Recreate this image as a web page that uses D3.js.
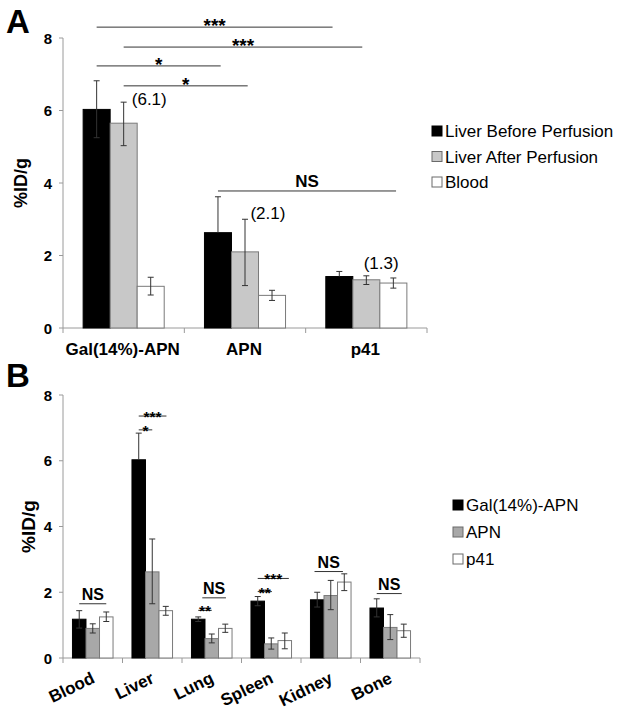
<!DOCTYPE html>
<html><head><meta charset="utf-8">
<script src="https://cdn.jsdelivr.net/npm/d3@7/dist/d3.min.js"></script>
<style>body{margin:0;background:#fff;} svg{display:block;font-family:"Liberation Sans",Arial,sans-serif;}</style>
</head><body>
<svg id="c" width="624" height="719"></svg>
<script>
// ---------- Panel A data ----------
const catsA = ["Gal(14%)-APN", "APN", "p41"];
const seriesA = ["Liver Before Perfusion", "Liver After Perfusion", "Blood"];
const valuesA = [[6.03, 5.65, 1.15], [2.63, 2.10, 0.90], [1.42, 1.33, 1.24]];
const errLoA = [[5.25, 5.03, 0.91], [2.63, 1.17, 0.76], [1.42, 1.20, 1.10]];
const errHiA = [[6.82, 6.23, 1.40], [3.62, 3.00, 1.04], [1.56, 1.44, 1.38]];
const colorsA = ["#000000", "#c8c8c8", "#ffffff"];
const ticksA = [0, 2, 4, 6, 8];
// significance brackets: [cat1, sub1, cat2, sub2, yValue, label]
const sigA = [
  [0, 0, 2, -0.25, 8.30, "***"],
  [0, 1, 2, 0.85, 7.75, "***"],
  [0, 0, 1, 0.1, 7.23, "*"],
  [0, 1, 1, 1.1, 6.68, "*"],
  [1, 0, 2, 2.1, 3.78, "NS"]
];
const notesA = [[0, 1.3, 6.15, "(6.1)"], [1, 1.2, 3.01, "(2.1)"], [2, 0.9, 1.63, "(1.3)"]];

// ---------- Panel B data ----------
const catsB = ["Blood", "Liver", "Lung", "Spleen", "Kidney", "Bone"];
const seriesB = ["Gal(14%)-APN", "APN", "p41"];
const valuesB = [[1.18, 0.90, 1.25], [6.03, 2.62, 1.44], [1.18, 0.59, 0.90], [1.73, 0.43, 0.53], [1.77, 1.90, 2.31], [1.52, 0.93, 0.83]];
const errLoB = [[0.91, 0.76, 1.11], [6.03, 1.65, 1.30], [1.11, 0.46, 0.78], [1.59, 0.27, 0.28], [1.55, 1.47, 2.05], [1.25, 0.56, 0.63]];
const errHiB = [[1.44, 1.04, 1.40], [6.84, 3.62, 1.57], [1.25, 0.73, 1.03], [1.87, 0.61, 0.76], [2.00, 2.36, 2.56], [1.80, 1.32, 1.03]];
const colorsB = ["#000000", "#a8a8a8", "#ffffff"];
const ticksB = [0, 2, 4, 6, 8];
const sigB = [
  [0, 0, 0, 2, 1.65, "NS"],
  [1, 0, 1, 2.05, 7.36, "***"],
  [1, 0, 1, 1.0, 6.94, "*"],
  [2, 0.3, 2, 2.05, 1.83, "NS"],
  [2, 0, 2, 1.0, 1.45, "**"],
  [3, 0, 3, 2.3, 2.42, "***"],
  [3, 0, 3, 1.05, 2.02, "**"],
  [4, -0.2, 4, 1.9, 2.63, "NS"],
  [5, 0, 5, 1.85, 1.96, "NS"]
];

const svg = d3.select("#c");
const axisColor = "#9a9a9a";

function drawPanel(o) {
  const g = svg.append("g");
  const x = d3.scaleBand().domain(o.cats).range(o.xr).padding(0);
  const sub = d3.scaleBand().domain(d3.range(3)).range([0, x.bandwidth()]).paddingInner(0).paddingOuter(o.pad);
  const y = d3.scaleLinear().domain([0, 8]).range(o.yr);
  const sx = (ci, s) => x(o.cats[ci]) + sub(0) + (s + 0.5) * sub.step();

  // y axis
  g.append("line").attr("x1", o.xr[0]).attr("x2", o.xr[0]).attr("y1", y(0)).attr("y2", y(8)).attr("stroke", axisColor);
  o.ticks.forEach(t => {
    g.append("line").attr("x1", o.xr[0] - 4).attr("x2", o.xr[0]).attr("y1", y(t)).attr("y2", y(t)).attr("stroke", axisColor);
    g.append("text").attr("x", o.xr[0] - 11).attr("y", y(t) + 5.5).attr("text-anchor", "end")
      .attr("font-size", 15).attr("font-weight", "bold").text(t);
  });
  // x axis
  g.append("line").attr("x1", o.xr[0]).attr("x2", o.xr[1]).attr("y1", y(0)).attr("y2", y(0)).attr("stroke", axisColor);
  o.cats.forEach((c, i) => {
    const xx = x(c);
    g.append("line").attr("x1", xx).attr("x2", xx).attr("y1", y(0)).attr("y2", y(0) + 5).attr("stroke", axisColor);
  });
  g.append("line").attr("x1", o.xr[1]).attr("x2", o.xr[1]).attr("y1", y(0)).attr("y2", y(0) + 5).attr("stroke", axisColor);

  // bars
  o.cats.forEach((c, ci) => {
    o.values[ci].forEach((v, s) => {
      g.append("rect").attr("x", x(c) + sub(s)).attr("y", y(v)).attr("width", sub.bandwidth()).attr("height", y(0) - y(v))
        .attr("fill", o.colors[s]).attr("stroke", s === 0 ? "#000" : "#7a7a7a").attr("stroke-width", 1);
    });
    o.values[ci].forEach((v, s) => {
      const cx = sx(ci, s), lo = o.lo[ci][s], hi = o.hi[ci][s];
      g.append("line").attr("x1", cx).attr("x2", cx).attr("y1", y(lo)).attr("y2", y(hi)).attr("stroke", "#333").attr("stroke-width", 1);
      g.append("line").attr("x1", cx - 3).attr("x2", cx + 3).attr("y1", y(hi)).attr("y2", y(hi)).attr("stroke", "#333");
      if (lo < v) g.append("line").attr("x1", cx - 3).attr("x2", cx + 3).attr("y1", y(lo)).attr("y2", y(lo)).attr("stroke", "#333");
    });
  });

  // significance
  o.sig.forEach(([c1, s1, c2, s2, yv, lab]) => {
    const x1 = sx(c1, s1), x2 = sx(c2, s2), yy = y(yv);
    g.append("line").attr("x1", x1).attr("x2", x2).attr("y1", yy).attr("y2", yy).attr("stroke", "#333").attr("stroke-width", 1);
    const isNS = lab === "NS";
    g.append("text").attr("x", (x1 + x2) / 2).attr("y", isNS ? yy - 4 : yy + o.starOff)
      .attr("text-anchor", "middle").attr("font-weight", "bold")
      .attr("font-size", isNS ? o.nsSize : o.starSize).text(lab);
  });

  // y label
  g.append("text").attr("transform", `translate(${o.ylabX},${(y(0) + y(8)) / 2}) rotate(-90)`)
    .attr("text-anchor", "middle").attr("font-weight", "bold").attr("font-size", o.ylabSize).text("%ID/g");
  // panel letter
  g.append("text").attr("x", 6).attr("y", o.letterY).attr("font-weight", "bold").attr("font-size", 33).text(o.letter);

  // legend
  o.series.forEach((s, i) => {
    const cy = o.legY + i * o.legStep;
    g.append("rect").attr("x", o.legX).attr("y", cy - 5).attr("width", 10).attr("height", 10)
      .attr("fill", o.colors[i]).attr("stroke", i === 0 ? "#000" : "#6a6a6a");
    g.append("text").attr("x", o.legX + 13).attr("y", cy + 6).attr("font-size", 17).text(s);
  });
  return {g, x, y, sx};
}

const A = drawPanel({
  cats: catsA, series: seriesA, values: valuesA, lo: errLoA, hi: errHiA, colors: colorsA, ticks: ticksA,
  xr: [63, 427], yr: [328, 38], pad: 0.745, sig: sigA, starOff: 5, starSize: 19, nsSize: 17,
  ylabX: 27, ylabSize: 18, letter: "A", letterY: 33, legX: 432, legY: 131, legStep: 25.5
});
catsA.forEach(c => {
  A.g.append("text").attr("x", A.x(c) + A.x.bandwidth() / 2 - 1).attr("y", 355).attr("text-anchor", "middle")
    .attr("font-weight", "bold").attr("font-size", 17).text(c);
});
notesA.forEach(([ci, s, yv, t]) => {
  A.g.append("text").attr("x", A.sx(ci, s)).attr("y", A.y(yv)).attr("font-size", 17).text(t);
});

const B = drawPanel({
  cats: catsB, series: seriesB, values: valuesB, lo: errLoB, hi: errHiB, colors: colorsB, ticks: ticksB,
  xr: [63, 420], yr: [658, 395], pad: 0.7, sig: sigB, starOff: 6, starSize: 15.5, nsSize: 16,
  ylabX: 35, ylabSize: 19, letter: "B", letterY: 387, legX: 453, legY: 505, legStep: 27
});
catsB.forEach(c => {
  const cx = B.x(c) + B.x.bandwidth() / 2 + 3;
  B.g.append("text").attr("transform", `translate(${cx},682) rotate(-26)`).attr("text-anchor", "end")
    .attr("font-weight", "bold").attr("font-size", 17).text(c);
});
</script>
</body></html>
